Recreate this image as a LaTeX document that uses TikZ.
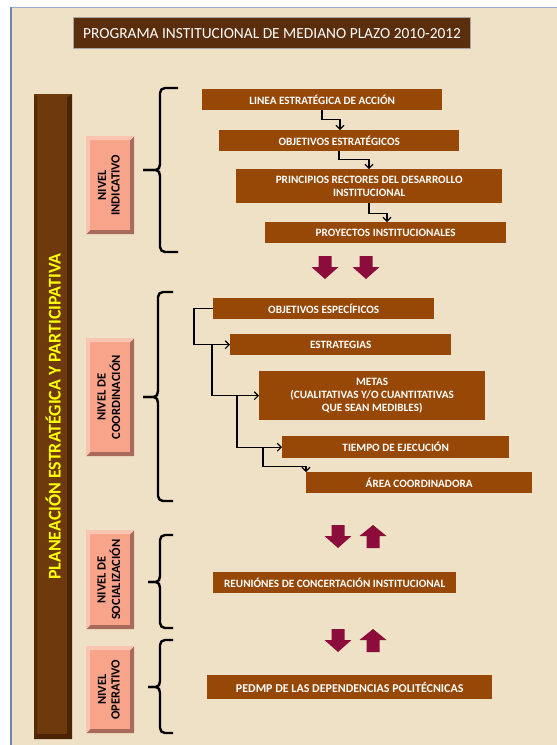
\documentclass[tikz,border=0pt]{standalone}
\usepackage{fontspec}
\setmainfont{Carlito}
\usetikzlibrary{arrows.meta,calc}
\definecolor{parch}{HTML}{EEE1C5}
\definecolor{boxbrown}{HTML}{974806}
\definecolor{titlebrown}{HTML}{5A2D0C}
\definecolor{barbrown}{HTML}{6E3A0B}
\definecolor{bardark}{HTML}{4A2404}
\definecolor{salmon}{HTML}{F8A48B}
\definecolor{salmondark}{HTML}{A86B5B}
\definecolor{salmonlight}{HTML}{FBC4B1}
\definecolor{blockred}{HTML}{8C0C3C}
\definecolor{frameblue}{HTML}{6A88B4}
\definecolor{ytext}{HTML}{FFFF00}
\newcommand\mybrace[6]{%
  \draw[bracestyle] (#3,#4) -- (#2+5,#4) to[out=180,in=90] (#2,#4+5) -- (#2,#6-6)
    to[out=-90,in=0] (#2-4,#6) -- (#1,#6);
  \draw[bracestyle] (#1,#6) -- (#2-4,#6) to[out=0,in=90] (#2,#6+6) -- (#2,#5-5)
    to[out=-90,in=180] (#2+5,#5) -- (#3,#5);}
\begin{document}
\begin{tikzpicture}[x=1pt,y=-1pt,
  bbox/.style={fill=boxbrown, text=white, inner sep=0pt, anchor=north west, align=center,
     font=\bfseries\fontsize{11.2}{13}\selectfont},
  titlebox/.style={fill=titlebrown, draw=gray!70, line width=1.2pt, text=white, inner sep=0pt,
     anchor=north west, font=\fontsize{15.4}{18}\selectfont},
  barbox/.style={fill=barbrown, inner sep=0pt, anchor=north west, text=ytext,
     font=\bfseries\fontsize{17.9}{20}\selectfont,
     path picture={
       \fill[bardark] (path picture bounding box.south west) -- (path picture bounding box.south east)
         -- (path picture bounding box.north east) -- ([xshift=-5pt,yshift=-3pt]path picture bounding box.north east)
         -- ([xshift=-5pt,yshift=5pt]path picture bounding box.south east) -- ([xshift=3pt,yshift=5pt]path picture bounding box.south west) -- cycle;
       \fill[bardark!70!barbrown] (path picture bounding box.north west) -- (path picture bounding box.south west)
         -- ([xshift=3pt,yshift=5pt]path picture bounding box.south west) -- ([xshift=3pt,yshift=-3pt]path picture bounding box.north west) -- cycle;}},
  nivel/.style={fill=salmon, inner sep=0pt, anchor=north west, minimum width=48, text=black,
     font=\bfseries\fontsize{12.5}{13.5}\selectfont,
     path picture={
       \fill[salmondark] (path picture bounding box.south west) -- (path picture bounding box.south east)
         -- (path picture bounding box.north east) -- ([xshift=-4pt,yshift=-4pt]path picture bounding box.north east)
         -- ([xshift=-4pt,yshift=4pt]path picture bounding box.south east) -- ([xshift=4pt,yshift=4pt]path picture bounding box.south west) -- cycle;
       \fill[salmonlight] (path picture bounding box.north west) -- (path picture bounding box.north east)
         -- ([xshift=-4pt,yshift=-4pt]path picture bounding box.north east) -- ([xshift=4pt,yshift=-4pt]path picture bounding box.north west)
         -- ([xshift=4pt,yshift=4pt]path picture bounding box.south west) -- (path picture bounding box.south west) -- cycle;}},
  conn/.style={draw=black, line width=1.1pt, -{Straight Barb[length=4pt,width=8pt]}},
  bracestyle/.style={draw=black, line width=2.4pt, line cap=butt},
  dnblock/.pic={\fill[blockred] (-6.5,0) -- (6.5,0) -- (6.5,11) -- (13.5,11) -- (0,23) -- (-13.5,11) -- (-6.5,11) -- cycle;},
  upblock/.pic={\fill[blockred] (0,0) -- (13.5,11) -- (6.5,11) -- (6.5,23) -- (-6.5,23) -- (-6.5,11) -- (-13.5,11) -- cycle;}
]
\useasboundingbox (0,0) rectangle (557,745);
\fill[white] (0,0) rectangle (557,745);
\fill[parch] (11,7) rectangle (557,745);
\draw[frameblue!70, line width=0.8pt] (11,7) -- (557,7);
\draw[frameblue, line width=1.8pt] (11,7) -- (11,745);

% title
\node[titlebox, minimum width=397, minimum height=31] (title) at (73,17) {PROGRAMA INSTITUCIONAL DE MEDIANO PLAZO 2010-2012};

% vertical bar
\node[barbox, minimum width=38, minimum height=645] (bar) at (34,94) {\rotatebox{90}{PLANEACIÓN ESTRATÉGICA Y PARTICIPATIVA}};

% level boxes
\node[nivel, minimum height=98] (n1) at (86,136) {\rotatebox{90}{\begin{tabular}{@{}c@{}}NIVEL\\INDICATIVO\end{tabular}}};
\node[nivel, minimum height=118] (n2) at (86,338) {\rotatebox{90}{\begin{tabular}{@{}c@{}}NIVEL DE\\COORDINACIÓN\end{tabular}}};
\node[nivel, minimum height=99] (n3) at (86,530) {\rotatebox{90}{\begin{tabular}{@{}c@{}}NIVEL DE\\SOCIALIZACIÓN\end{tabular}}};
\node[nivel, minimum height=87] (n4) at (86,646) {\rotatebox{90}{\begin{tabular}{@{}c@{}}NIVEL\\OPERATIVO\end{tabular}}};

% braces
\mybrace{143}{160}{178}{88}{252}{170}
\mybrace{143}{158}{173}{292}{501}{397}
\mybrace{148}{160}{173}{535}{628}{582}
\mybrace{148}{160}{173}{640}{733}{687}

% indicativo boxes
\node[bbox, minimum width=240, minimum height=21] (l1) at (202,89) {LINEA ESTRATÉGICA DE ACCIÓN};
\node[bbox, minimum width=240, minimum height=21] (o1) at (219,130) {OBJETIVOS ESTRATÉGICOS};
\node[bbox, minimum width=266, minimum height=34] (p1) at (236,169) {PRINCIPIOS RECTORES DEL DESARROLLO\\INSTITUCIONAL};
\node[bbox, minimum width=241, minimum height=21] (y1) at (265,222) {PROYECTOS INSTITUCIONALES};

\draw[conn] ($(l1.south west)+(120,0)$) -- ++(0,9) -| ($(o1.north west)+(121,0)$);
\draw[conn] ($(o1.south west)+(120,0)$) -- ++(0,8) -| ($(p1.north west)+(133,0)$);
\draw[conn] ($(p1.south west)+(133,0)$) -- ++(0,10) -| ($(y1.north west)+(122,0)$);

\pic at (325,256) {dnblock};
\pic at (366,256) {dnblock};

% coordinacion boxes
\node[bbox, minimum width=221, minimum height=21] (os) at (213,298) {OBJETIVOS ESPECÍFICOS};
\node[bbox, minimum width=221, minimum height=21] (es) at (230,334) {ESTRATEGIAS};
\node[bbox, minimum width=226, minimum height=49] (me) at (259,371) {METAS\\(CUALITATIVAS Y/O CUANTITATIVAS\\QUE SEAN MEDIBLES)};
\node[bbox, minimum width=227, minimum height=22] (ti) at (282,436) {TIEMPO DE EJECUCIÓN};
\node[bbox, minimum width=226, minimum height=21] (ar) at (306,472) {ÁREA COORDINADORA};

\draw[conn] (os.west) -- ++(-19,0) |- (es.west);
\draw[conn] ($(es.west)+(-18,0)$) |- (me.west);
\draw[conn] ($(me.west)+(-22,0)$) |- (ti.west);
\draw[conn] ($(ti.west)+(-19,0)$) -- ++(0,19) -| (ar.north west);

% socializacion / operativo
\pic at (338,525) {dnblock};
\pic at (373,525) {upblock};
\node[bbox, minimum width=243, minimum height=21] (re) at (213,572) {REUNIÓNES DE CONCERTACIÓN INSTITUCIONAL};
\pic at (338,629) {dnblock};
\pic at (373,629) {upblock};
\node[bbox, minimum width=285, minimum height=24, font=\bfseries\fontsize{12}{13}\selectfont] (pe) at (207,675) {PEDMP DE LAS DEPENDENCIAS POLITÉCNICAS};
\end{tikzpicture}
\end{document}
